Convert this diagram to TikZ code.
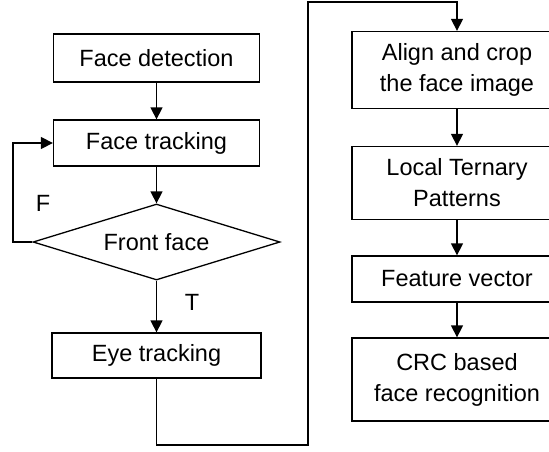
\documentclass[tikz,border=0pt]{standalone}
\usepackage{fontspec}
\setmainfont{Liberation Sans}
\usetikzlibrary{shapes.geometric,arrows.meta}
\begin{document}
\begin{tikzpicture}[x=1pt,y=-1pt,
  every node/.style={font=\fontsize{23.5}{31}\selectfont},
  flowbox/.style={draw, line width=1.3pt, rectangle, inner sep=0pt, align=center},
  decide/.style={draw, line width=1.3pt, diamond, aspect=3.25, inner sep=0pt,
                 minimum width=247pt, minimum height=76pt},
  link/.style={line width=1.3pt, -{Triangle[width=12pt,length=12pt]}},
  wire/.style={line width=1.3pt}]
\useasboundingbox (0,0) rectangle (549,451);

% left column
\node[flowbox, minimum width=206pt, minimum height=48pt] (det) at (156.5,58) {Face detection};
\node[flowbox, minimum width=206pt, minimum height=46pt] (trk) at (156.5,143) {Face tracking};
\node[decide] (dia) at (156.5,242) {};
\node (diatext) at (156.5,242) {Front face};
\node[flowbox, minimum width=209pt, minimum height=45pt] (eye) at (156.5,355.5) {Eye tracking};

% right column
\node[flowbox, minimum width=210pt, minimum height=77pt] (align) at (457,70) {Align and crop\\the face image};
\node[flowbox, minimum width=210pt, minimum height=73pt] (ltp) at (457,183) {Local Ternary\\Patterns};
\node[flowbox, minimum width=210pt, minimum height=46pt] (fv) at (457,279) {Feature vector};
\node[flowbox, minimum width=210pt, minimum height=83pt] (crc) at (457,379.5) {CRC based\\face recognition};

% branch labels
\node (lf) at (43,203) {F};
\node (lt) at (192,302) {T};

% routing points
\coordinate (loopx) at (13,242);
\coordinate (lowl) at (156.5,445);
\coordinate (lowr) at (308,445);
\coordinate (topl) at (308,2);

% connectors
\draw[link] (det.south) -- (trk.north);
\draw[link] (trk.south) -- (dia.north);
\draw[link] (dia.south) -- (eye.north);
\draw[link] (dia.west) -- (loopx) |- (trk.west);
\draw[link] (eye.south) -- (lowl) -- (lowr) -- (topl) -| (align.north);
\draw[link] (align.south) -- (ltp.north);
\draw[link] (ltp.south) -- (fv.north);
\draw[link] (fv.south) -- (crc.north);
\end{tikzpicture}
\end{document}
